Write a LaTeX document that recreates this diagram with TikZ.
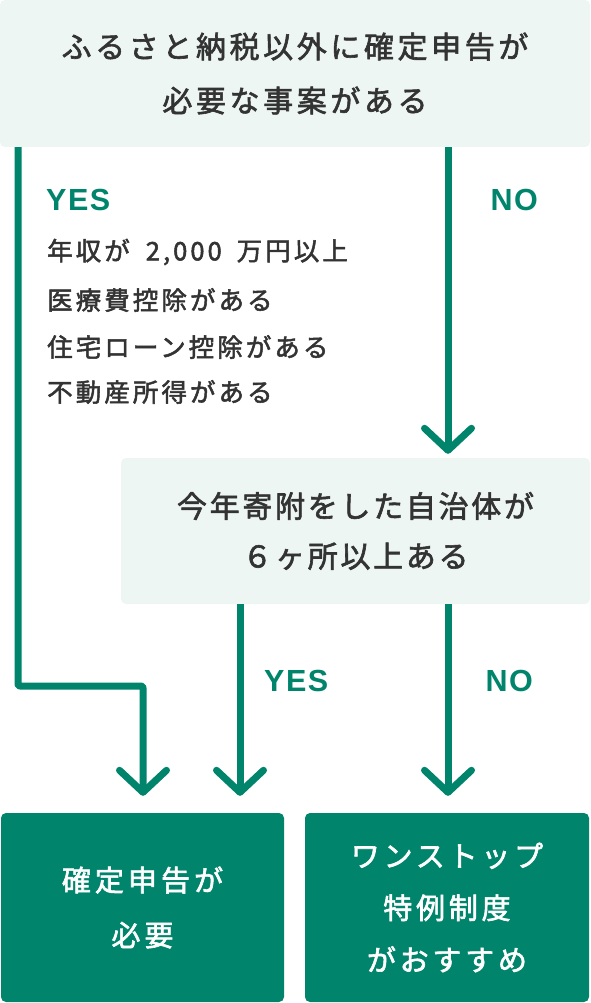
\documentclass[tikz,border=0pt]{standalone}
\usepackage{fontspec}
\setmainfont{Noto Sans CJK JP}[FakeBold=2]
\newfontfamily\lblfont{Liberation Sans}
\usetikzlibrary{arrows.meta}
\definecolor{fgreen}{HTML}{00846C}
\definecolor{lightbg}{HTML}{EDF6F3}
\definecolor{txt}{HTML}{333333}
\begin{document}
\begin{tikzpicture}[x=1pt,y=-1pt,
  qbox/.style={fill=lightbg, rounded corners=5pt, inner sep=0pt, text=txt, align=center},
  rbox/.style={fill=fgreen, rounded corners=5pt, inner sep=0pt, text=white, align=center},
  conn/.style={draw=fgreen, line width=7pt, line join=round, rounded corners=2pt,
    shorten >=17pt, -{Straight Barb[length=22pt,width=47pt,line cap=round,line join=round]}},
  yn/.style={text=fgreen, inner sep=0pt, font=\lblfont\bfseries\fontsize{30.5}{30.5}\selectfont\addfontfeature{LetterSpace=5}},
  item/.style={text=txt, inner sep=0pt, anchor=west,
    font=\fontsize{25.5}{25.5}\selectfont\addfontfeature{LetterSpace=12}}]
\useasboundingbox (0,0) rectangle (590,1003);
\fill[white] (0,0) rectangle (590,1003);
% boxes
\node[qbox, minimum width=590pt, minimum height=147pt, font=\fontsize{30}{54}\selectfont\addfontfeature{LetterSpace=12}] (top) at (295,73.5)
  {ふるさと納税以外に確定申告が\\必要な事案がある};
\node[qbox, minimum width=469pt, minimum height=146pt, font=\fontsize{30}{50}\selectfont\addfontfeature{LetterSpace=9}] (mid) at (355.5,531)
  {今年寄附をした自治体が\\６ヶ所以上ある};
\node[rbox, minimum width=283pt, minimum height=189pt, font=\fontsize{29}{55}\selectfont\addfontfeature{LetterSpace=14}] (res1) at (142.5,907.5)
  {確定申告が\\必要};
\node[rbox, minimum width=284pt, minimum height=189pt, font=\fontsize{29}{52}\selectfont\addfontfeature{LetterSpace=13}] (res2) at (447,907.5)
  {ワンストップ\\特例制度\\がおすすめ};
% x positions of connectors
\coordinate (xL) at (18,0);
\coordinate (xA) at (143,0);
\coordinate (xB) at (240,0);
\coordinate (xC) at (448,0);
\coordinate (bend) at (18,686);
% connectors
\draw[conn] (top.south -| xL) -- (bend) -| (res1.north -| xA);
\draw[conn, shorten >=4pt] (top.south -| xC) -- (mid.north -| xC);
\draw[conn] (mid.south -| xB) -- (res1.north -| xB);
\draw[conn] (mid.south -| xC) -- (res2.north -| xC);
% labels
\node[yn, anchor=west] (yes1) at (46,200) {YES};
\node[yn, anchor=east] (no1) at (538,200) {NO};
\node[yn, anchor=west] (yes2) at (264,681) {YES};
\node[yn, anchor=east] (no2) at (533,681) {NO};
% list
\node[item] (l1) at (47,252) {年収が\kern16pt 2,000\kern15pt 万円以上};
\node[item] (l2) at (47,300) {医療費控除がある};
\node[item] (l3) at (47,347) {住宅ローン控除がある};
\node[item] (l4) at (47,392) {不動産所得がある};
\end{tikzpicture}
\end{document}
